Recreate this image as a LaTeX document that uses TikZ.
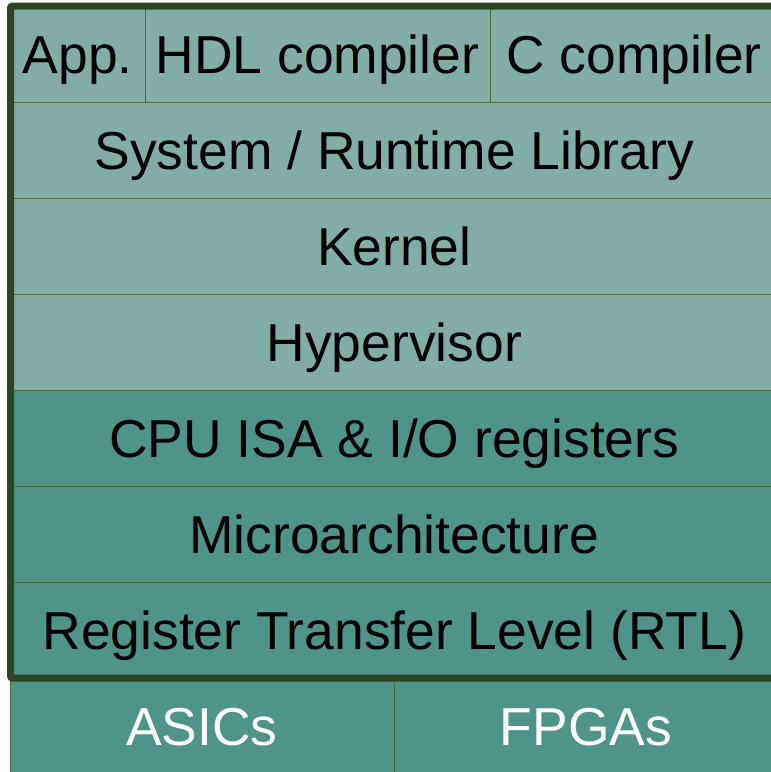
\documentclass[tikz,border=0pt]{standalone}
\usepackage{fontspec}
\setmainfont{Liberation Sans}
\definecolor{lightteal}{HTML}{82ADA5}
\definecolor{darkteal}{HTML}{4F9488}
\definecolor{borderc}{HTML}{2B4620}
\definecolor{thinline}{HTML}{466A3A}
\tikzset{
  cell/.style={draw=thinline, line width=1pt, inner sep=0pt, anchor=center,
    text height=38.2pt, text depth=0pt,
    font=\fontsize{53.4}{64}\selectfont},
  lightcell/.style={cell, fill=lightteal, text=black},
  darkcell/.style={cell, fill=darkteal, text=black},
  basecell/.style={cell, fill=darkteal, text=white},
}
\begin{document}
\begin{tikzpicture}[x=1pt,y=-1pt]
\useasboundingbox (0,0) rectangle (771,772);
\begin{scope}
\clip (0,0) rectangle (771,772);
\node[lightcell, minimum width=134.5pt, minimum height=96pt] (app) at (77.75,54) {App.};
\node[lightcell, minimum width=345pt, minimum height=96pt] (hdl) at (317.5,54) {HDL compiler};
\node[lightcell, minimum width=288pt, minimum height=96pt] (cc) at (634,54) {C compiler};
\node[lightcell, minimum width=767.5pt, minimum height=96pt] (sys) at (394.25,150) {System / Runtime Library};
\node[lightcell, minimum width=767.5pt, minimum height=96pt] (kernel) at (394.25,246) {Kernel};
\node[lightcell, minimum width=767.5pt, minimum height=96pt] (hyper) at (394.25,342) {Hypervisor};
\node[darkcell, minimum width=767.5pt, minimum height=96pt] (isa) at (394.25,438) {CPU ISA \& I/O registers};
\node[darkcell, minimum width=767.5pt, minimum height=96pt] (micro) at (394.25,534) {Microarchitecture};
\node[darkcell, minimum width=767.5pt, minimum height=96pt] (rtl) at (394.25,630) {Register Transfer Level (RTL)};
\node[basecell, minimum width=384pt, minimum height=96pt] (asic) at (202,726) {ASICs};
\node[basecell, minimum width=384pt, minimum height=96pt] (fpga) at (586,726) {FPGAs};
\draw[borderc, line width=7pt, rounded corners=2pt] (10.5,6) rectangle (778,678);
\end{scope}
\end{tikzpicture}
\end{document}
